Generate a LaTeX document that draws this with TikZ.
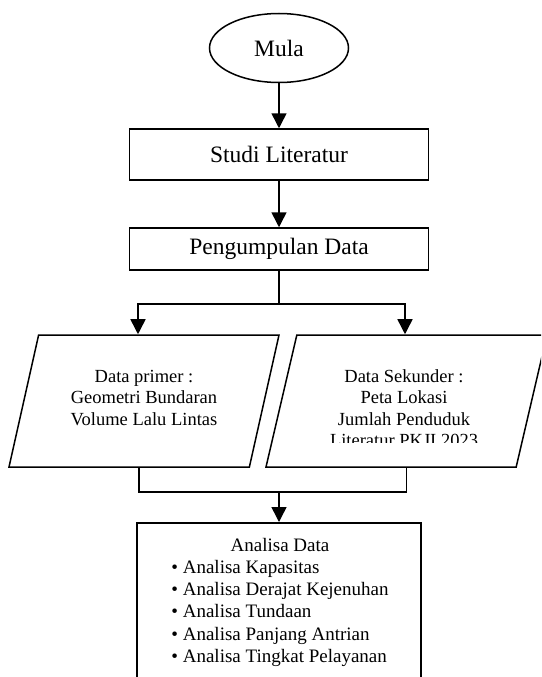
\documentclass[tikz,border=0pt]{standalone}
\usepackage{fontspec}
\setmainfont{Liberation Serif}
\usetikzlibrary{shapes.geometric,arrows.meta}

\begin{document}
\begin{tikzpicture}[x=1pt,y=-1pt,
  garis/.style={line width=1.5pt, black},
  panah/.style={line width=1.5pt, black, -{Triangle[length=15pt,width=15pt]}},
  besar/.style={font=\fontsize{23.5}{28}\selectfont},
  kecil/.style={font=\fontsize{18.5}{21.5}\selectfont},
  daftar/.style={font=\fontsize{19}{22.2}\selectfont}]
\clip (0,0) rectangle (541,677);

\begin{scope}[every node/.style={draw, line width=1.5pt, inner sep=0pt}]
\node (mula)[ellipse, minimum width=139, minimum height=69, besar] at (279,48) {Mula};
\node (studi)[rectangle, minimum width=299, minimum height=51, besar] at (279,154.5) {Studi Literatur};
\node (kumpul)[rectangle, minimum width=299, minimum height=42, besar] at (279,249) {Pengumpulan Data};

\node (primer)[trapezium, trapezium left angle=82, trapezium right angle=98,
  trapezium stretches=true, inner sep=2pt, minimum width=270, minimum height=132] at (144,401) {};
\node (sekunder)[trapezium, trapezium left angle=82, trapezium right angle=98,
  trapezium stretches=true, inner sep=2pt, minimum width=281, minimum height=132] at (406.5,401) {};

\node (analisa)[rectangle, anchor=north, minimum width=284, minimum height=190] at (279,522) {};
\end{scope}

% isi data
\node (teksprimer)[kecil, align=center, anchor=north, inner sep=0pt] at (144,370)
  {Data primer :\\ Geometri Bundaran\\ Volume Lalu Lintas};
\begin{scope}
\clip (270,340) rectangle (530,442);
\node (tekssekunder)[kecil, align=center, anchor=north, inner sep=0pt] at (404,369)
  {Data Sekunder :\\ Peta Lokasi\\ Jumlah Penduduk\\ Literatur PKJI 2023};
\end{scope}

\node (teksanalisa)[daftar, anchor=north, inner sep=0pt] at (280,535.5)
  {\begin{tabular}{@{}l@{}}
   \multicolumn{1}{c}{Analisa Data}\\
   \textbullet\ Analisa Kapasitas\\
   \textbullet\ Analisa Derajat Kejenuhan\\
   \textbullet\ Analisa Tundaan\\
   \textbullet\ Analisa Panjang Antrian\\
   \textbullet\ Analisa Tingkat Pelayanan
   \end{tabular}};

% alur
\coordinate (cabang) at (279,304);
\coordinate (gabung) at (279,492);

\draw[panah] (mula) -- (studi);
\draw[panah] (studi) -- (kumpul);
\draw[garis] (kumpul) -- (cabang);
\draw[panah] (cabang) -| ([xshift=-6pt]primer.north);
\draw[panah] (cabang) -| ([xshift=-1.5pt]sekunder.north);
\draw[garis] ([xshift=-5pt]primer.south) |- (gabung) -| (sekunder.south);
\draw[panah] (gabung) -- (analisa);
\end{tikzpicture}
\end{document}
